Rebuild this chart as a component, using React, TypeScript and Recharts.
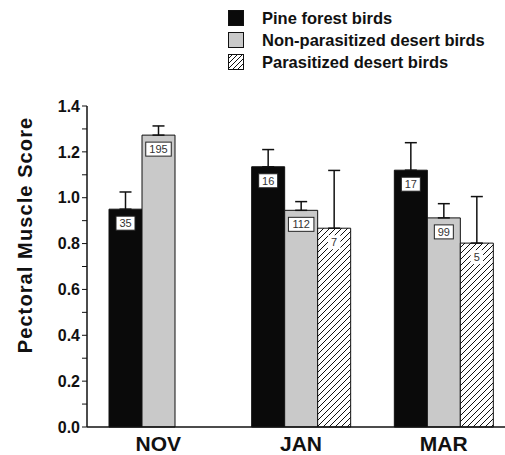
import { BarChart, Bar, XAxis, YAxis, ErrorBar, LabelList, Legend } from "recharts";

const months = ["NOV", "JAN", "MAR"];
const pine = [0.95, 1.135, 1.12];
const pineErr = [0.075, 0.075, 0.12];
const pineN = [35, 16, 17];
const nonPara = [1.273, 0.945, 0.912];
const nonParaErr = [0.04, 0.038, 0.062];
const nonParaN = [195, 112, 99];
const para = [null, 0.867, 0.802];
const paraErr = [null, 0.252, 0.203];
const paraN = [null, 7, 5];
const yTicks = [0, 0.1, 0.2, 0.3, 0.4, 0.5, 0.6, 0.7, 0.8, 0.9, 1.0, 1.1, 1.2, 1.3, 1.4];

const data = months.map((m, i) => ({
  month: m,
  pine: pine[i],
  pineErr: [0, pineErr[i]],
  pineN: pineN[i],
  nonPara: nonPara[i],
  nonParaErr: [0, nonParaErr[i]],
  nonParaN: nonParaN[i],
  para: para[i],
  paraErr: paraErr[i] == null ? null : [0, paraErr[i]],
  paraN: paraN[i],
}));

const font = "'Liberation Sans', Arial, sans-serif";

const countLabel = (boxed: boolean) => (props: any) => {
  const { x, y, width, value } = props;
  if (value == null) return null;
  const w = String(value).length * 6.5 + 6;
  const cx = x + width / 2;
  const cy = y + 14;
  return (
    <g>
      <rect
        x={cx - w / 2}
        y={cy - 7}
        width={w}
        height={14}
        fill="#fff"
        stroke={boxed ? "#222" : "none"}
        strokeWidth={1}
      />
      <text x={cx} y={cy + 4} textAnchor="middle" fontSize={11} fontFamily={font} fill="#333">
        {value}
      </text>
    </g>
  );
};

const legendItems = [
  { label: "Pine forest birds", kind: "black" },
  { label: "Non-parasitized desert birds", kind: "gray" },
  { label: "Parasitized desert birds", kind: "hatch" },
];

function renderLegend() {
  return (
    <div style={{ fontFamily: font, fontWeight: "bold", fontSize: 16.5, color: "#111" }}>
      {legendItems.map((it) => (
        <div key={it.label} style={{ display: "flex", alignItems: "center", height: 22 }}>
          <svg width={16} height={16} style={{ marginRight: 18 }}>
            <defs>
              <pattern id="lgHatch" patternUnits="userSpaceOnUse" width={5} height={5}>
                <path d="M0,5 L5,0 M-1,1 L1,-1 M4,6 L6,4" stroke="#111" strokeWidth={1} />
              </pattern>
            </defs>
            <rect
              x={0.5}
              y={0.5}
              width={15}
              height={15}
              fill={it.kind === "black" ? "#0a0a0a" : it.kind === "gray" ? "#c9c9c9" : "url(#lgHatch)"}
              stroke="#111"
              strokeWidth={1}
            />
          </svg>
          <span>{it.label}</span>
        </div>
      ))}
    </div>
  );
}

export default function App() {
  return (
    <div
      style={{
        position: "absolute",
        left: 0,
        top: 0,
        width: 505,
        height: 455,
        overflow: "hidden",
        background: "#fff",
      }}
    >
      <BarChart
        width={530}
        height={455}
        data={data}
        margin={{ top: 40, right: 15, bottom: 0, left: 0 }}
        barGap={0}
        barCategoryGap={22}
      >
        <defs>
          <pattern id="hatch" patternUnits="userSpaceOnUse" width={6} height={6}>
            <rect width={6} height={6} fill="#fff" />
            <path d="M0,6 L6,0 M-1,1 L1,-1 M5,7 L7,5" stroke="#111" strokeWidth={1} />
          </pattern>
        </defs>
        <XAxis
          dataKey="month"
          tickLine={false}
          tickSize={0}
          tickMargin={9}
          height={28}
          axisLine={{ stroke: "#111", strokeWidth: 1.5 }}
          tick={{ fill: "#111", fontSize: 21, fontWeight: "bold", fontFamily: font }}
        />
        <YAxis
          width={87}
          domain={[0, 1.4]}
          ticks={yTicks}
          interval={0}
          tickSize={5}
          tickMargin={2}
          tickFormatter={(v: number) => (Math.round(v * 10) % 2 === 0 ? v.toFixed(1) : "")}
          axisLine={{ stroke: "#111", strokeWidth: 1.5 }}
          tickLine={{ stroke: "#111" }}
          tick={{ fill: "#111", fontSize: 16, fontWeight: "bold", fontFamily: font }}
          label={{
            content: () => (
              <text
                x={25}
                y={235}
                transform="rotate(-90, 25, 235)"
                textAnchor="middle"
                dominantBaseline="central"
                fontSize={20}
                fontWeight="bold"
                fontFamily={font}
                fill="#111"
                letterSpacing={1.1}
              >
                Pectoral Muscle Score
              </text>
            ),
          }}
        />
        <Legend
          verticalAlign="top"
          align="left"
          wrapperStyle={{ top: 7, left: 228, width: 290 }}
          content={renderLegend}
        />
        <Bar dataKey="pine" fill="#0a0a0a" stroke="#111" strokeWidth={1} isAnimationActive={false}>
          <ErrorBar dataKey="pineErr" direction="y" width={6} stroke="#111" strokeWidth={1.5} />
          <LabelList dataKey="pineN" content={countLabel(true)} />
        </Bar>
        <Bar dataKey="nonPara" fill="#c9c9c9" stroke="#111" strokeWidth={1} isAnimationActive={false}>
          <ErrorBar dataKey="nonParaErr" direction="y" width={6} stroke="#111" strokeWidth={1.5} />
          <LabelList dataKey="nonParaN" content={countLabel(true)} />
        </Bar>
        <Bar dataKey="para" fill="url(#hatch)" stroke="#111" strokeWidth={1} isAnimationActive={false}>
          <ErrorBar dataKey="paraErr" direction="y" width={6} stroke="#111" strokeWidth={1.5} />
          <LabelList dataKey="paraN" content={countLabel(false)} />
        </Bar>
      </BarChart>
    </div>
  );
}
